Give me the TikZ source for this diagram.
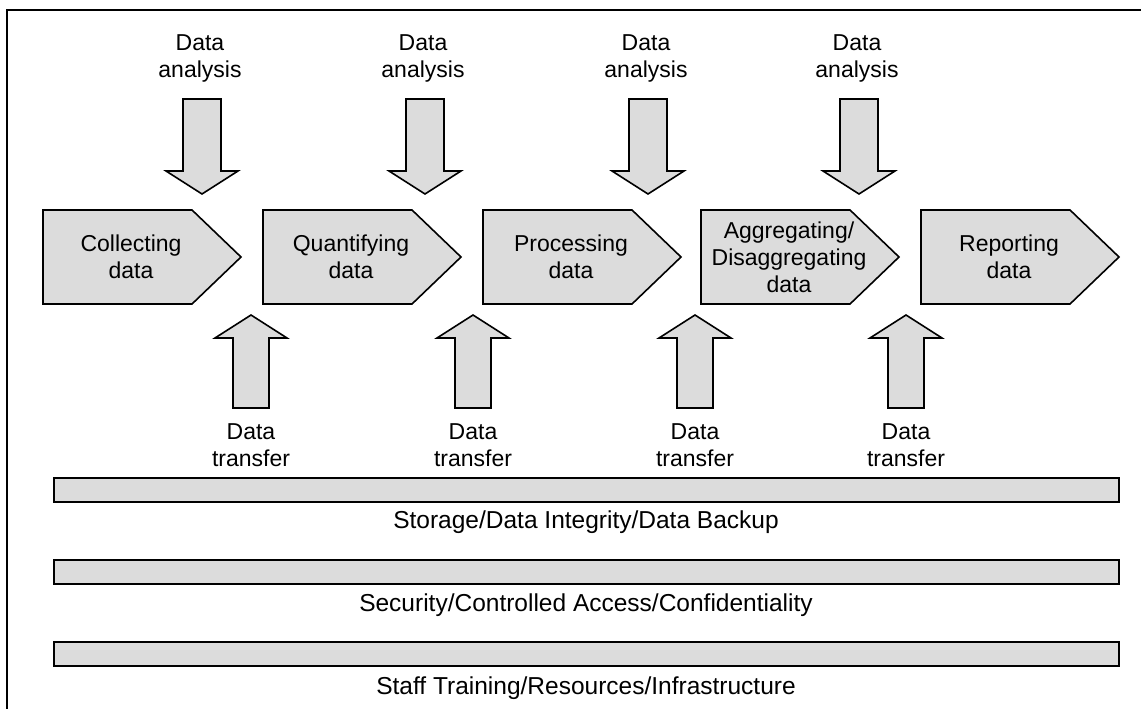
\documentclass[tikz,border=0pt]{standalone}
\usepackage{fontspec}
\setmainfont{Liberation Sans}
\definecolor{boxgray}{HTML}{DCDCDC}
\begin{document}
\begin{tikzpicture}[x=1pt,y=-1pt,
  shapefill/.style={draw=black,fill=boxgray,line width=1.6pt,line join=miter},
  label/.style={align=center,inner sep=0pt,font=\fontsize{23}{27}\selectfont},
  barlabel/.style={inner sep=0pt,font=\fontsize{24.5}{28}\selectfont}]
\useasboundingbox (0,0) rectangle (1141,709);
% outer frame (clipped at the right and bottom)
\draw[line width=2.4pt] (7,720) -- (7,10) -- (1150,10);

% process blocks (pentagon arrows)
\foreach \L/\name/\txt in {43/collect/{Collecting\\data},
                            263/quant/{Quantifying\\data},
                            483/proc/{Processing\\data},
                            701/aggr/{Aggregating/\\Disaggregating\\data},
                            921/report/{Reporting\\data}}{
  \draw[shapefill] (\L,210) -- ++(149,0) -- ++(49,47) -- ++(-49,47) -- (\L,304) -- cycle;
  \node[label] (\name) at ({\L+88},257) {\txt};
}

% data analysis arrows pointing down
\foreach \c/\i in {202/1,425/2,648/3,859/4}{
  \draw[shapefill] ({\c-19},99) -- ({\c+19},99) -- ({\c+19},171) -- ({\c+36},171)
     -- (\c,194) -- ({\c-36},171) -- ({\c-19},171) -- cycle;
  \node[label] (an\i) at ({\c-2},58) {Data\\analysis};
}

% data transfer arrows pointing up
\foreach \c/\i in {251/1,473/2,695/3,906/4}{
  \draw[shapefill] ({\c-18},408) -- ({\c+18},408) -- ({\c+18},338) -- ({\c+36},338)
     -- (\c,315) -- ({\c-36},338) -- ({\c-18},338) -- cycle;
  \node[label] (tr\i) at (\c,445) {Data\\transfer};
}

% supporting layers
\draw[shapefill] (54,478) rectangle (1119,502);
\node[barlabel] (storage) at (586,522) {Storage/Data Integrity/Data Backup};
\draw[shapefill] (54,560) rectangle (1119,584);
\node[barlabel] (security) at (586,605) {Security/Controlled Access/Confidentiality};
\draw[shapefill] (54,642) rectangle (1119,666);
\node[barlabel] (staff) at (586,688) {Staff Training/Resources/Infrastructure};
\end{tikzpicture}
\end{document}
